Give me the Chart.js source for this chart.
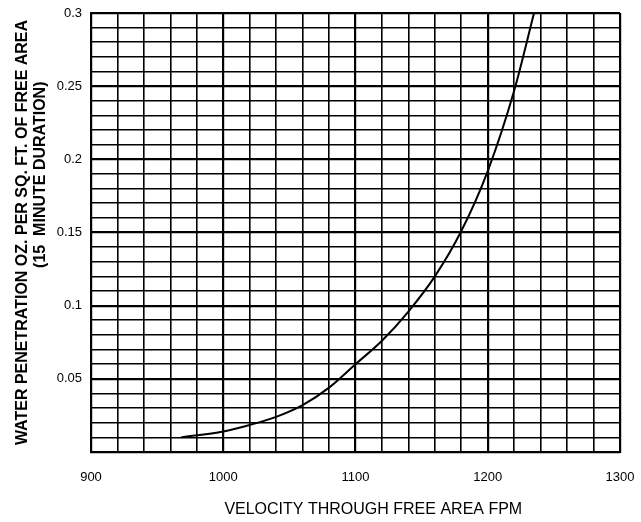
<!DOCTYPE html>
<html>
<head>
<meta charset="utf-8">
<script src="https://cdn.jsdelivr.net/npm/chart.js@4/dist/chart.umd.min.js"></script>
<style>
  html, body { margin: 0; padding: 0; background: #fff; }
  #wrap { width: 641px; height: 522px; }
</style>
</head>
<body>
<div id="wrap"><canvas id="chart"></canvas></div>
<script>
// Velocity (FPM) and water penetration
const velocity = [968, 1000, 1020, 1040, 1060, 1080, 1100, 1120, 1140, 1160, 1180, 1200, 1220, 1235];
const penetration = [0.010, 0.014, 0.0185, 0.024, 0.032, 0.044, 0.060, 0.076, 0.096, 0.120, 0.151, 0.192, 0.247, 0.300];

// Labelled ticks
const xTickLabels = [900, 1000, 1100, 1200, 1300];
const yTickLabels = [0.05, 0.1, 0.15, 0.2, 0.25, 0.3];

const tickFont = { family: "'Liberation Sans Narrow', 'Liberation Sans', Arial, sans-serif", size: 13 };

function isLabelled(list, v) {
    return list.some(t => Math.abs(t - v) < 1e-6);
}

// nbsp padding to nudge the titles off-centre like the original
const pad = n => '\u00a0'.repeat(n);

const ctx = document.getElementById('chart').getContext('2d');
new Chart(ctx, {
    type: 'scatter',
    data: {
        datasets: [{
            data: velocity.map((v, i) => ({ x: v, y: penetration[i] })),
            showLine: true,
            borderColor: '#000',
            borderWidth: 2,
            pointRadius: 0,
            cubicInterpolationMode: 'monotone'
        }]
    },
    options: {
        responsive: true,
        maintainAspectRatio: false,
        animation: false,
        layout: { padding: { top: 13, right: 21, left: 0, bottom: 0 } },
        plugins: { legend: { display: false }, tooltip: { enabled: false } },
        scales: {
            x: {
                type: 'linear',
                min: 900,
                max: 1300,
                afterFit: scale => {
                    scale.height = 70;
                    scale.paddingLeft = 0;
                    scale.paddingRight = 0;
                },
                border: { color: '#000', width: 2 },
                grid: {
                    color: '#000',
                    drawTicks: false,
                    lineWidth: c => (c.tick && c.tick.value % 100 === 0) ? 2.2 : 1.6
                },
                ticks: {
                    stepSize: 20,
                    padding: 18,
                    color: '#000',
                    font: tickFont,
                    maxRotation: 0,
                    autoSkip: false,
                    callback: v => isLabelled(xTickLabels, v) ? String(v) : ''
                },
                title: {
                    display: true,
                    text: pad(8) + 'VELOCITY THROUGH FREE AREA FPM',
                    color: '#000',
                    font: { family: "'Liberation Sans', Arial, sans-serif", size: 16 },
                    padding: { top: 0, bottom: 3 }
                }
            },
            y: {
                type: 'linear',
                min: 0,
                max: 0.3,
                afterFit: scale => {
                    scale.width = 91;
                    scale.paddingTop = 0;
                    scale.paddingBottom = 0;
                },
                border: { color: '#000', width: 2 },
                grid: {
                    color: '#000',
                    drawTicks: false,
                    lineWidth: c => (c.tick && Math.round(c.tick.value * 100) % 5 === 0) ? 2.2 : 1.6
                },
                ticks: {
                    stepSize: 0.01,
                    padding: 9,
                    color: '#000',
                    font: tickFont,
                    autoSkip: false,
                    callback: v => (v > 0 && isLabelled(yTickLabels, v)) ? String(Math.round(v * 100) / 100) : ''
                },
                title: {
                    display: true,
                    text: ['WATER PENETRATION OZ. PER SQ. FT. OF FREE AREA',
                           pad(26) + '(15  MINUTE DURATION)'],
                    color: '#000',
                    font: { family: "'Liberation Sans', Arial, sans-serif", size: 16, weight: 'bold', lineHeight: 1.1 },
                    padding: { top: 14, bottom: 0 }
                }
            }
        }
    }
});
</script>
</body>
</html>
